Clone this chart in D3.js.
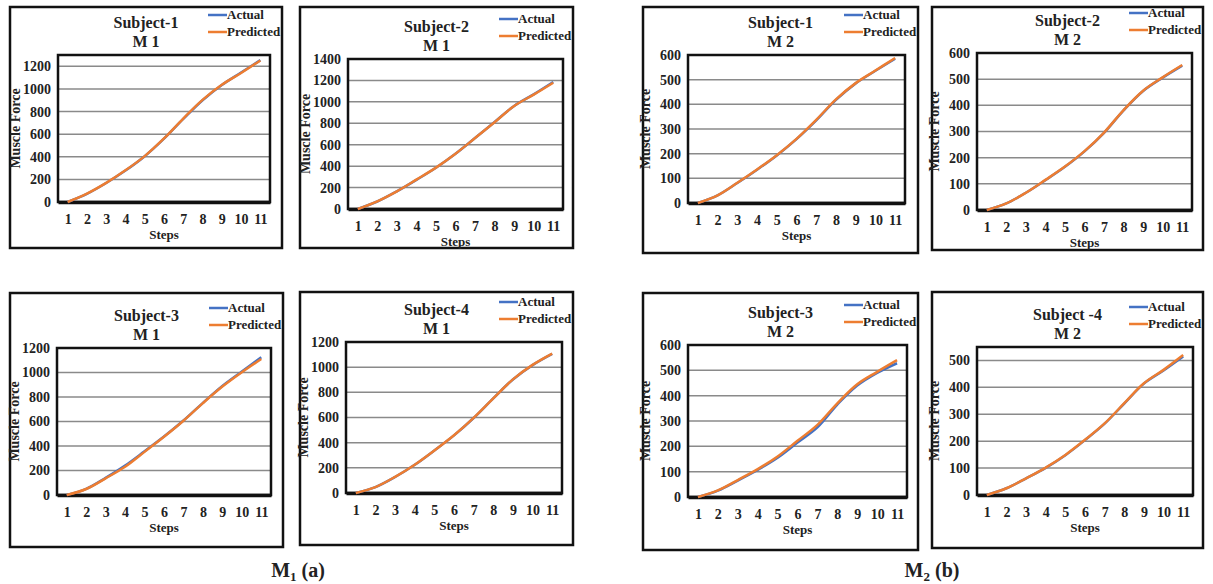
<!DOCTYPE html>
<html>
<head>
<meta charset="utf-8">
<script src="https://cdn.jsdelivr.net/npm/d3@7"></script>
<style>
  body { margin: 0; background: #fff; }
  svg text { font-family: "Liberation Serif", "DejaVu Serif", "Times New Roman", Times, serif !important; font-weight: bold; }
</style>
</head>
<body>
<div id="chart"></div>
<script>
// Steps on the x axis (same for every panel)
const steps = [1, 2, 3, 4, 5, 6, 7, 8, 9, 10, 11];
const seriesNames = ["Actual", "Predicted"];

// Muscle force values, model M1
const s1m1Actual = [0, 72, 168, 278, 405, 560, 735, 900, 1035, 1145, 1255];
const s1m1Predicted = [0, 74, 169, 280, 406, 562, 738, 903, 1037, 1141, 1252];
const s2m1Actual = [0, 70, 165, 272, 385, 515, 662, 812, 962, 1070, 1185];
const s2m1Predicted = [0, 72, 165, 274, 386, 516, 662, 810, 962, 1067, 1178];
const s3m1Actual = [0, 50, 140, 240, 357, 477, 608, 752, 890, 1008, 1125];
const s3m1Predicted = [0, 49, 136, 230, 352, 475, 606, 750, 885, 1002, 1110];
const s4m1Actual = [0, 47, 127, 224, 338, 458, 596, 752, 902, 1016, 1105];
const s4m1Predicted = [0, 47, 128, 225, 338, 459, 597, 752, 903, 1018, 1108];

// model M2
const s1m2Actual = [0, 31, 81, 135, 193, 259, 335, 418, 485, 536, 585];
const s1m2Predicted = [0, 31, 82, 136, 194, 260, 337, 420, 486, 537, 588];
const s2m2Actual = [0, 25, 66, 114, 165, 224, 295, 381, 455, 506, 552];
const s2m2Predicted = [0, 25, 66, 115, 166, 225, 296, 382, 456, 507, 554];
const s3m2Actual = [0, 25, 65, 107, 155, 215, 275, 365, 440, 490, 528];
const s3m2Predicted = [0, 26, 67, 110, 160, 222, 285, 370, 445, 494, 540];
const s4m2Actual = [0, 25, 62, 101, 148, 204, 265, 340, 414, 463, 515];
const s4m2Predicted = [0, 25, 62, 102, 149, 205, 266, 341, 415, 465, 520];

// panel titles and y axis settings
const subjects = ["Subject-1", "Subject-2", "Subject-3", "Subject-4",
                  "Subject-1", "Subject-2", "Subject-3", "Subject -4"];
const models = ["M 1", "M 1", "M 1", "M 1", "M 2", "M 2", "M 2", "M 2"];
const yMaxes = [1300, 1400, 1200, 1200, 600, 600, 600, 550];
const ySteps = [200, 200, 200, 200, 100, 100, 100, 100];
const actuals = [s1m1Actual, s2m1Actual, s3m1Actual, s4m1Actual,
                 s1m2Actual, s2m2Actual, s3m2Actual, s4m2Actual];
const predicteds = [s1m1Predicted, s2m1Predicted, s3m1Predicted, s4m1Predicted,
                    s1m2Predicted, s2m2Predicted, s3m2Predicted, s4m2Predicted];
const captions = [{ main: "M", sub: "1", tail: " (a)" }, { main: "M", sub: "2", tail: " (b)" }];

const width = 1213;
const height = 584;
const colors = { Actual: "#4472c4", Predicted: "#ed7d31" };
const serif = '"Liberation Serif", "DejaVu Serif", "Times New Roman", serif';

// panel frames: outer box and plot area (pixels)
const layout = [
  { box: [10, 7, 282, 248], plot: [58, 55, 270, 202] },
  { box: [300, 7, 573, 248], plot: [348, 59, 563, 209] },
  { box: [10, 293, 283, 547], plot: [57, 348, 271, 495] },
  { box: [300, 292, 573, 545], plot: [346, 342, 562, 493] },
  { box: [643, 7, 918, 253], plot: [688, 55, 905, 203] },
  { box: [932, 7, 1203, 250], plot: [977, 53, 1192, 210] },
  { box: [643, 293, 918, 550], plot: [688, 345, 907, 497] },
  { box: [932, 292, 1203, 548], plot: [977, 347, 1193, 495] },
];

const svg = d3.select("#chart").append("svg")
  .attr("width", width).attr("height", height)
  .attr("font-family", serif).attr("font-weight", "bold");

svg.append("rect").attr("width", width).attr("height", height).attr("fill", "#fff");

subjects.forEach((subject, i) => drawPanel(i));

function drawPanel(i) {
  const [bx0, by0, bx1, by1] = layout[i].box;
  const [pl, pt, pr, pb] = layout[i].plot;
  const g = svg.append("g");

  g.append("rect")
    .attr("x", bx0).attr("y", by0)
    .attr("width", bx1 - bx0).attr("height", by1 - by0)
    .attr("fill", "#fff").attr("stroke", "#111").attr("stroke-width", 2.5);

  const x = d3.scalePoint().domain(steps).range([pl, pr]).padding(0.5);
  const y = d3.scaleLinear().domain([0, yMaxes[i]]).range([pb, pt]);
  const ticks = d3.range(0, yMaxes[i] + 1, ySteps[i]);

  // gridlines
  g.append("g")
    .selectAll("line")
    .data(ticks.filter((t) => t > 0 && t < yMaxes[i]))
    .join("line")
    .attr("x1", pl).attr("x2", pr)
    .attr("y1", (d) => y(d)).attr("y2", (d) => y(d))
    .attr("stroke", "#8a8a8a").attr("stroke-width", 1.5);

  // plot frame
  g.append("rect")
    .attr("x", pl).attr("y", pt)
    .attr("width", pr - pl).attr("height", pb - pt)
    .attr("fill", "none").attr("stroke", "#111").attr("stroke-width", 2.5);

  // y axis labels
  const yAxis = g.append("g")
    .attr("transform", `translate(${pl},0)`)
    .call(d3.axisLeft(y).tickValues(ticks).tickFormat(d3.format("d")).tickSize(0).tickPadding(7));
  yAxis.attr("font-family", serif).attr("font-size", 14);
  yAxis.select(".domain").remove();
  yAxis.selectAll("text").attr("fill", "#222");

  // x axis
  const xAxis = g.append("g")
    .attr("transform", `translate(0,${pb})`)
    .call(d3.axisBottom(x).tickSize(0).tickPadding(12));
  xAxis.attr("font-family", serif).attr("font-size", 14);
  xAxis.select(".domain").attr("stroke", "#111").attr("stroke-width", 3.5);
  xAxis.selectAll("text").attr("fill", "#222");

  // lines
  const line = d3.line()
    .x((d, k) => x(steps[k]))
    .y((d) => y(d))
    .curve(d3.curveCatmullRom.alpha(0.5));

  [actuals[i], predicteds[i]].forEach((vals, k) => {
    g.append("path")
      .datum(vals)
      .attr("fill", "none")
      .attr("stroke", colors[seriesNames[k]])
      .attr("stroke-width", 2.5)
      .attr("d", line);
  });

  // titles
  const cx = (bx0 + bx1) / 2;
  g.append("text").attr("x", cx).attr("y", pt - 27)
    .attr("text-anchor", "middle").attr("font-size", 16).attr("fill", "#222")
    .text(subjects[i]);
  g.append("text").attr("x", cx).attr("y", pt - 8)
    .attr("text-anchor", "middle").attr("font-size", 16).attr("fill", "#222")
    .text(models[i]);

  // legend
  const lx = bx1 - 74;
  seriesNames.forEach((name, k) => {
    const ly = pt - 40 + k * 17;
    g.append("line")
      .attr("x1", lx).attr("x2", lx + 19)
      .attr("y1", ly).attr("y2", ly)
      .attr("stroke", colors[name]).attr("stroke-width", 2.5);
    g.append("text").attr("x", lx + 19).attr("y", ly + 4)
      .attr("font-size", 13).attr("fill", "#222")
      .text(name);
  });

  // axis titles
  g.append("text")
    .attr("transform", `translate(${pl - 38},${(pt + pb) / 2}) rotate(-90)`)
    .attr("text-anchor", "middle").attr("font-size", 14).attr("fill", "#222")
    .text("Muscle Force");
  g.append("text").attr("x", (pl + pr) / 2).attr("y", pb + 37)
    .attr("text-anchor", "middle").attr("font-size", 13).attr("fill", "#222")
    .text("Steps");
}

// group captions
[298, 932].forEach((cx, k) => {
  const t = svg.append("text").attr("x", cx).attr("y", 577)
    .attr("text-anchor", "middle").attr("font-size", 20).attr("fill", "#222");
  t.append("tspan").text(captions[k].main);
  t.append("tspan").attr("font-size", 13).attr("dy", 4).text(captions[k].sub);
  t.append("tspan").attr("dy", -4).text(captions[k].tail);
});
</script>
</body>
</html>
